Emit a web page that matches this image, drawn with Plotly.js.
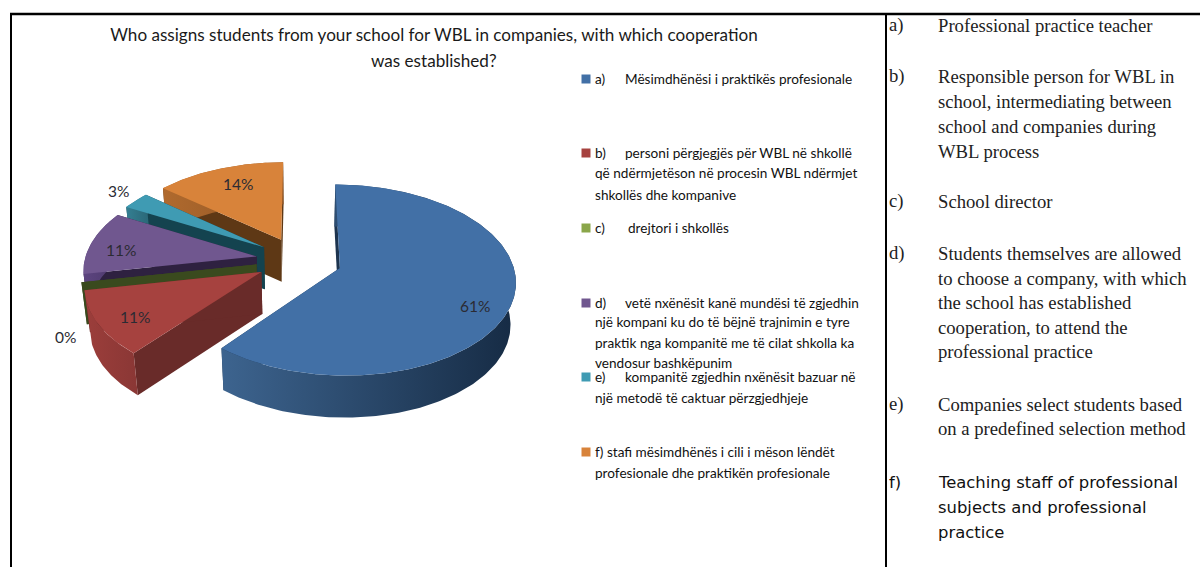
<!DOCTYPE html>
<html>
<head>
<meta charset="utf-8">
<script src="https://cdn.plot.ly/plotly-3.0.1.min.js"></script>
<style>html,body{margin:0;padding:0;background:#fff}#chart{width:1200px;height:567px}</style>
</head>
<body>
<div id="chart"></div>
<script>
// Survey answers, in percent
const categories = ['a', 'b', 'c', 'd', 'e', 'f'];
const values = [61, 11, 0, 11, 3, 14];

// Face colours for each answer
const topColors = ['#4270A6', '#A6423F', '#8AA64A', '#70578F', '#3F9BB3', '#D8833A'];
const wallColors = ['#1D344F', '#692B29', '#3A4A1E', '#2E2140', '#14434F', '#5E3815'];
const rimLeft = ['#3D648F', '#9C3E3B', '#3A4A1E', '#5D4580', '#347F92', '#B06A2E'];
const rimRight = ['#162B44', '#8A3735', '#3A4A1E', '#4A3768', '#2A6676', '#8F5525'];

// Where each percentage sits, beside or on its slice
const labelX = [475, 135, 65, 121, 118, 238];
const labelY = [306, 317, 337, 250, 191, 184];

const titleLines = [
  'Who assigns students from your school for WBL in companies, with which cooperation',
  'was established?'
];

// Albanian legend beside the pie
const legendMarks = ['a)', 'b)', 'c)', 'd)', 'e)', ''];
const legendMarkY = [79, 153, 228, 303, 377, 452];
const legendLines = [
  [624, 79, 'Mësimdhënësi i praktikës profesionale'],
  [624, 153, 'personi përgjegjës për WBL në shkollë'],
  [594, 173, 'që ndërmjetëson në procesin WBL ndërmjet'],
  [594, 195, 'shkollës dhe kompanive'],
  [627, 228, 'drejtori i shkollës'],
  [624, 303, 'vetë nxënësit kanë mundësi të zgjedhin'],
  [594, 322, 'një kompani ku do të bëjnë trajnimin e tyre'],
  [594, 343, 'praktik nga kompanitë me të cilat shkolla ka'],
  [594, 363, 'vendosur bashkëpunim'],
  [624, 377, 'kompanitë zgjedhin nxënësit bazuar në'],
  [594, 398, 'një metodë të caktuar përzgjedhjeje'],
  [594, 452, 'f) stafi mësimdhënës i cili i mëson lëndët'],
  [594, 473, 'profesionale dhe praktikën profesionale']
];

// English key in the right-hand column
const keyLetters = [['a)', 25], ['b)', 76], ['c)', 201], ['d)', 253], ['e)', 404]];
const keyLines = [
  [25, 'Professional practice teacher'],
  [76, 'Responsible person for WBL in'],
  [101, 'school, intermediating between'],
  [126, 'school and companies during'],
  [151, 'WBL process'],
  [201, 'School director'],
  [253, 'Students themselves are allowed'],
  [278, 'to choose a company, with which'],
  [302, 'the school has established'],
  [327, 'cooperation, to attend the'],
  [351, 'professional practice'],
  [404, 'Companies select students based'],
  [428, 'on a predefined selection method']
];
const keyLastLetter = 'f)';
const keyLastLines = [
  [482, 'Teaching staff of professional'],
  [507, 'subjects and professional'],
  [532, 'practice']
];

// Projection of the exploded 3D pie onto the page
const view = {cx: 299, cy: 260, a: 172, b: 92, k: 0.126, depth: 42, pull: 0.25, vanishX: 300, shrink: 0.025};

function project(u, v, z) {
  const f = 1 / (1 - view.k * v);
  const x = view.cx + view.a * u * f;
  const y = view.cy + view.b * v * f + view.depth * z;
  return [view.vanishX + (x - view.vanishX) * (1 - view.shrink * z), y];
}

function sliceArc(startDeg, endDeg, mid, z) {
  const ox = view.pull * Math.sin(mid), oy = -view.pull * Math.cos(mid);
  const n = Math.max(1, Math.ceil(endDeg - startDeg));
  const pts = [];
  for (let i = 0; i <= n; i++) {
    const t = (startDeg + (endDeg - startDeg) * i / n) * Math.PI / 180;
    pts.push(project(ox + Math.sin(t), oy - Math.cos(t), z));
  }
  return pts;
}

function apex(mid, z) {
  return project(view.pull * Math.sin(mid), -view.pull * Math.cos(mid), z);
}

function polygon(pts, color, extra) {
  return Object.assign({
    type: 'scatter', mode: 'lines', fill: 'toself', fillcolor: color,
    x: pts.map(p => p[0]), y: pts.map(p => p[1]),
    line: {width: 0, color: color}, hoverinfo: 'skip', showlegend: false
  }, extra || {});
}

// Build each slice as walls, then rim, then top; far slices go down first
const total = values.reduce((s, v) => s + v, 0);
let running = 0;
const slices = values.map((v, i) => {
  const start = running / total * 360;
  running += v;
  return {i, start, end: running / total * 360};
});

const traces = [];
[5, 4, 3, 2, 1, 0].forEach(idx => {
  const s = slices[idx];
  const mid = (s.start + s.end) / 2 * Math.PI / 180;
  const top = sliceArc(s.start, s.end, mid, 0);
  const low = sliceArc(s.start, s.end, mid, 1);
  const a0 = apex(mid, 0), a1 = apex(mid, 1);
  traces.push(polygon([a0, top[0], low[0], a1], wallColors[idx]));
  traces.push(polygon([a0, top[top.length - 1], low[low.length - 1], a1], wallColors[idx]));
  const rim = top.concat(low.slice().reverse());
  traces.push(polygon(rim, rimRight[idx], {
    fillgradient: {type: 'horizontal', colorscale: [[0, rimLeft[idx]], [1, rimRight[idx]]]}
  }));
  traces.push(polygon([a0].concat(top), topColors[idx]));
});

// Legend swatches
traces.push({
  type: 'scatter', mode: 'markers',
  x: legendMarkY.map(() => 586), y: legendMarkY,
  marker: {symbol: 'square', size: 9, color: topColors},
  hoverinfo: 'skip', showlegend: false
});

const text = (x, y, t, font, anchor) => ({
  xref: 'x', yref: 'y', x, y, text: t, showarrow: false,
  xanchor: anchor || 'left', yanchor: 'middle', font, borderpad: 0
});

const pctFont = {family: 'Lato, sans-serif', size: 15.5, color: '#2b2b33'};
const legFont = {family: 'Lato, sans-serif', size: 13.6, color: '#111'};
const serif = {family: '"Liberation Serif", serif', size: 18.67, color: '#222'};
const sans = {family: '"DejaVu Sans", sans-serif', size: 16.4, color: '#111'};
const titleFont = {family: 'Lato, sans-serif', size: 17.1, color: '#1a1a1a'};

const annotations = []
  .concat([text(434, 60, titleLines[1], titleFont, 'center')])
  .concat(values.map((v, i) => text(labelX[i], labelY[i], v + '%', pctFont, 'center')))
  .concat(legendMarks.map((m, i) => text(594, legendMarkY[i], m, legFont)))
  .concat(legendLines.map(l => text(l[0], l[1], l[2], legFont)))
  .concat(keyLetters.map(l => text(888, l[1], l[0], serif)))
  .concat(keyLines.map(l => text(937, l[0], l[1], serif)))
  .concat([text(888, keyLastLines[0][0], keyLastLetter, sans)])
  .concat(keyLastLines.map(l => text(937, l[0], l[1], sans)));

const rule = (x0, y0, x1, y1, w) => ({
  type: 'line', xref: 'x', yref: 'y', x0, y0, x1, y1,
  line: {color: '#000', width: w}
});

const layout = {
  width: 1200, height: 567,
  margin: {l: 0, r: 0, t: 0, b: 0},
  paper_bgcolor: '#fff', plot_bgcolor: '#fff',
  showlegend: false,
  title: {
    text: titleLines[0],
    x: 434 / 1200, xanchor: 'center',
    y: 1 - 35 / 567, yanchor: 'middle',
    font: titleFont
  },
  xaxis: {range: [0, 1200], visible: false, fixedrange: true},
  yaxis: {range: [567, 0], visible: false, fixedrange: true},
  annotations,
  shapes: [
    rule(10, 14, 1200, 14, 2.5),
    rule(11, 14, 11, 567, 2),
    rule(886, 14, 886, 567, 2)
  ]
};

Plotly.newPlot('chart', traces, layout, {displayModeBar: false, staticPlot: true});
</script>
</body>
</html>
